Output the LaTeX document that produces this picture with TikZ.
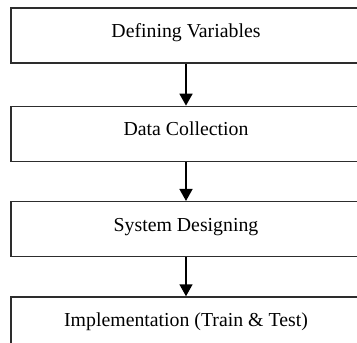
\documentclass[tikz,border=0pt]{standalone}
\usepackage{fontspec}
\setmainfont{Liberation Serif}
\usetikzlibrary{positioning, arrows.meta}
\definecolor{mgray}{RGB}{45,45,45}

\begin{document}
\begin{tikzpicture}[x=1pt, y=-1pt,
  stage/.style={draw=mgray, line width=1.3pt, minimum width=350pt, minimum height=55pt,
    inner sep=0pt, text height=13pt, text depth=9pt, font=\fontsize{19.8}{23}\selectfont},
  flow/.style={-{Triangle[length=12pt,width=13pt]}, line width=1.7pt}]
  \useasboundingbox (0,0) rectangle (357,343);
  \clip (0,0) rectangle (357,343);
  % the boxes run past the right and bottom edges of the page
  \node[stage] (vars) at (186,35.5) {Defining Variables};
  \node[stage, below=42pt of vars] (collect) {Data Collection};
  \node[stage, below=39pt of collect] (design) {System Designing};
  \node[stage, below=39pt of design] (impl) {Implementation (Train \& Test)};
  \draw[flow] (vars) -- (collect);
  \draw[flow] (collect) -- (design);
  \draw[flow] (design) -- (impl);
\end{tikzpicture}
\end{document}
